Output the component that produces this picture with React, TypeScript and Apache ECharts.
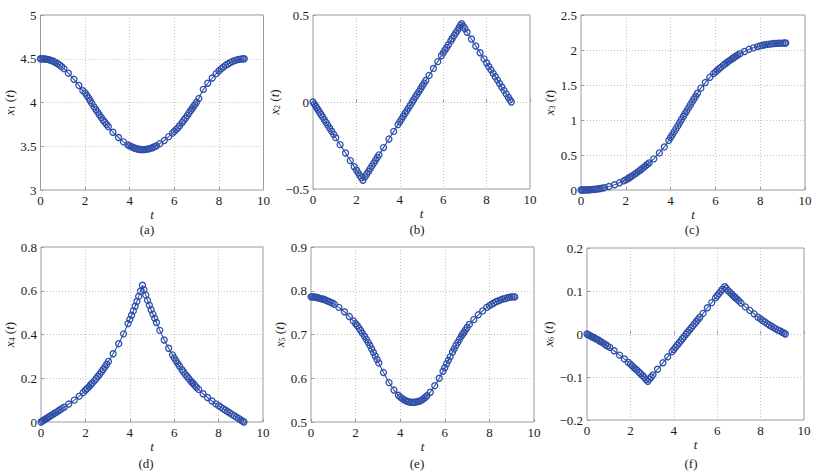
import React, { useEffect, useRef } from 'react';
import * as echarts from 'echarts';

// shared time samples (adaptive solver steps)
const T = [0, 0.06, 0.12, 0.18, 0.24, 0.3, 0.37, 0.44, 0.52, 0.6, 0.68, 0.77, 0.86, 0.95, 1.05,
  1.25, 1.5, 1.72, 1.9,
  2.0, 2.08, 2.16, 2.23, 2.3, 2.4, 2.48, 2.56, 2.64, 2.72, 2.8, 2.88, 2.96, 3.04,
  3.25, 3.5, 3.72, 3.92,
  4.0, 4.08, 4.16, 4.24, 4.32, 4.4, 4.48, 4.57, 4.64, 4.72, 4.8, 4.88, 4.96, 5.04, 5.12, 5.2,
  5.35, 5.55, 5.75, 5.92,
  6.0, 6.08, 6.16, 6.24, 6.35, 6.42, 6.5, 6.58, 6.66, 6.74, 6.8, 6.85, 6.92, 7.0, 7.1,
  7.3, 7.5, 7.7, 7.88,
  8.0, 8.1, 8.2, 8.3, 8.4, 8.5, 8.6, 8.7, 8.8, 8.9, 9.0, 9.08, 9.14];

const X1 = [4.5, 4.5, 4.499, 4.498, 4.496, 4.493, 4.489, 4.484, 4.477, 4.468, 4.457, 4.443, 4.427, 4.409, 4.387,
  4.335, 4.265, 4.195, 4.135,
  4.11, 4.08, 4.05, 4.02, 3.99, 3.95, 3.92, 3.89, 3.86, 3.83, 3.8, 3.775, 3.75, 3.725,
  3.66, 3.6, 3.55, 3.515,
  3.505, 3.495, 3.485, 3.477, 3.471, 3.466, 3.463, 3.462, 3.462, 3.464, 3.467, 3.472, 3.478, 3.486, 3.495, 3.505,
  3.53, 3.565, 3.61, 3.65,
  3.67, 3.69, 3.71, 3.735, 3.77, 3.795, 3.82, 3.85, 3.88, 3.91, 3.93, 3.95, 3.975, 4.005, 4.045,
  4.15, 4.22, 4.28, 4.33,
  4.36, 4.385, 4.405, 4.425, 4.44, 4.455, 4.468, 4.479, 4.487, 4.493, 4.497, 4.499, 4.5];

const X2 = [0, -0.012, -0.023, -0.035, -0.047, -0.059, -0.072, -0.086, -0.102, -0.117, -0.133, -0.151, -0.168, -0.186, -0.205,
  -0.245, -0.293, -0.337, -0.372,
  -0.391, -0.407, -0.423, -0.436, -0.45, -0.43, -0.414, -0.399, -0.383, -0.367, -0.351, -0.335, -0.319, -0.304,
  -0.262, -0.213, -0.169, -0.13,
  -0.114, -0.098, -0.082, -0.066, -0.051, -0.035, -0.019, -0.001, 0.013, 0.029, 0.045, 0.06, 0.076, 0.092, 0.108, 0.124,
  0.153, 0.193, 0.232, 0.266,
  0.282, 0.298, 0.313, 0.329, 0.351, 0.365, 0.381, 0.397, 0.412, 0.428, 0.44, 0.45, 0.436, 0.421, 0.401,
  0.362, 0.322, 0.283, 0.248,
  0.224, 0.204, 0.185, 0.165, 0.145, 0.126, 0.106, 0.086, 0.067, 0.047, 0.028, 0.012, 0];

const X3 = [0, 0, 0, 0.001, 0.002, 0.003, 0.004, 0.006, 0.008, 0.01, 0.013, 0.017, 0.021, 0.027, 0.033,
  0.05, 0.075, 0.103, 0.13,
  0.145, 0.16, 0.175, 0.19, 0.205, 0.227, 0.245, 0.263, 0.282, 0.302, 0.322, 0.344, 0.365, 0.386,
  0.445, 0.53, 0.615, 0.708,
  0.75, 0.79, 0.831, 0.873, 0.916, 0.96, 1.004, 1.05, 1.09, 1.129, 1.173, 1.216, 1.258, 1.3, 1.34, 1.382,
  1.455, 1.535, 1.61, 1.663,
  1.685, 1.708, 1.73, 1.751, 1.78, 1.798, 1.818, 1.837, 1.855, 1.873, 1.886, 1.897, 1.912, 1.929, 1.948,
  1.979, 2.01, 2.031, 2.049,
  2.059, 2.068, 2.074, 2.08, 2.084, 2.088, 2.092, 2.094, 2.096, 2.098, 2.099, 2.1, 2.1];

const X4 = [0, 0.004, 0.008, 0.012, 0.016, 0.02, 0.024, 0.029, 0.034, 0.039, 0.044, 0.05, 0.056, 0.062, 0.068,
  0.082, 0.1, 0.118, 0.134,
  0.145, 0.153, 0.161, 0.169, 0.177, 0.188, 0.198, 0.208, 0.218, 0.229, 0.24, 0.252, 0.264, 0.277,
  0.312, 0.358, 0.403, 0.45,
  0.469, 0.488, 0.508, 0.529, 0.551, 0.574, 0.598, 0.625, 0.604, 0.58, 0.556, 0.534, 0.513, 0.493, 0.474, 0.455,
  0.419, 0.375, 0.337, 0.307,
  0.293, 0.28, 0.267, 0.255, 0.239, 0.229, 0.218, 0.208, 0.198, 0.188, 0.181, 0.176, 0.168, 0.159, 0.149,
  0.129, 0.112, 0.096, 0.083,
  0.075, 0.068, 0.061, 0.055, 0.048, 0.042, 0.035, 0.029, 0.022, 0.016, 0.009, 0.004, 0];

const X5 = [0.786, 0.786, 0.786, 0.785, 0.785, 0.784, 0.783, 0.782, 0.781, 0.78, 0.778, 0.776, 0.774, 0.772, 0.769,
  0.762, 0.752, 0.741, 0.731,
  0.725, 0.72, 0.714, 0.709, 0.703, 0.696, 0.689, 0.682, 0.675, 0.667, 0.659, 0.651, 0.643, 0.635,
  0.613, 0.59, 0.573, 0.561,
  0.557, 0.554, 0.551, 0.549, 0.547, 0.546, 0.545, 0.545, 0.545, 0.546, 0.547, 0.548, 0.55, 0.553, 0.556, 0.56,
  0.568, 0.583, 0.6, 0.616,
  0.624, 0.633, 0.641, 0.649, 0.66, 0.667, 0.675, 0.682, 0.689, 0.696, 0.701, 0.704, 0.71, 0.716, 0.723,
  0.734, 0.745, 0.754, 0.762,
  0.766, 0.769, 0.772, 0.775, 0.777, 0.779, 0.781, 0.782, 0.784, 0.785, 0.786, 0.786, 0.786];

const X6 = [0, -0.002, -0.003, -0.005, -0.007, -0.008, -0.01, -0.012, -0.014, -0.017, -0.019, -0.022, -0.025, -0.028, -0.031,
  -0.039, -0.049, -0.058, -0.066,
  -0.07, -0.074, -0.078, -0.081, -0.084, -0.089, -0.093, -0.097, -0.101, -0.106, -0.11, -0.105, -0.1, -0.095,
  -0.082, -0.067, -0.053, -0.041,
  -0.036, -0.031, -0.026, -0.021, -0.016, -0.011, -0.006, 0, 0.004, 0.009, 0.014, 0.019, 0.024, 0.029, 0.034, 0.039,
  0.048, 0.061, 0.073, 0.084,
  0.089, 0.094, 0.099, 0.104, 0.11, 0.106, 0.101, 0.097, 0.093, 0.089, 0.086, 0.084, 0.081, 0.077, 0.072,
  0.063, 0.055, 0.047, 0.039,
  0.035, 0.031, 0.028, 0.024, 0.021, 0.018, 0.015, 0.012, 0.009, 0.007, 0.004, 0.002, 0];

const X_TICKS = [0, 2, 4, 6, 8, 10];
const Y1_TICKS = [3, 3.5, 4, 4.5, 5];
const Y2_TICKS = [-0.5, 0, 0.5];
const Y3_TICKS = [0, 0.5, 1, 1.5, 2, 2.5];
const Y4_TICKS = [0, 0.2, 0.4, 0.6, 0.8];
const Y5_TICKS = [0.5, 0.6, 0.7, 0.8, 0.9];
const Y6_TICKS = [-0.2, -0.1, 0, 0.1, 0.2];
const SUBSCRIPTS = ['1', '2', '3', '4', '5', '6'];
const CAPTIONS = ['(a)', '(b)', '(c)', '(d)', '(e)', '(f)'];

const FONT = 'Liberation Serif, Times New Roman, Times, serif';
const BLUE = '#2e4ea8';
const TXT = '#1a1a1a';

const LAYOUT = [
  { left: 40.5, top: 15, width: 223, height: 175, cx: 147, cy: 229, ng: 4 },
  { left: 313, top: 15, width: 217, height: 174, cx: 417, cy: 229, ng: 5 },
  { left: 581, top: 15, width: 224, height: 175, cx: 692, cy: 229, ng: 4 },
  { left: 41, top: 247, width: 222, height: 175, cx: 146, cy: 463, ng: 11 },
  { left: 311, top: 247, width: 223, height: 175, cx: 417, cy: 463, ng: 11 },
  { left: 587, top: 248, width: 217, height: 172, cx: 691, cy: 463, ng: 13 },
];

const fmt = (v: number) => String(Math.round(v * 1000) / 1000).replace('-', '\u2212');

export default function App() {
  const ref = useRef<HTMLDivElement>(null);
  useEffect(() => {
    const chart = echarts.init(ref.current!, null, { renderer: 'svg' });
    const series = [X1, X2, X3, X4, X5, X6];
    const yTicks = [Y1_TICKS, Y2_TICKS, Y3_TICKS, Y4_TICKS, Y5_TICKS, Y6_TICKS];
    const grid: any[] = [];
    const xAxis: any[] = [];
    const yAxis: any[] = [];
    const ser: any[] = [];
    const graphic: any[] = [];
    const tickLab = { fontFamily: FONT, fontSize: 13, color: TXT };
    for (let i = 0; i < 6; i++) {
      const L = LAYOUT[i];
      grid.push({ left: L.left, top: L.top, width: L.width, height: L.height, show: true, borderColor: '#9a9a9a', borderWidth: 1, backgroundColor: 'transparent' });
      xAxis.push({
        type: 'value', gridIndex: i, min: X_TICKS[0], max: X_TICKS[X_TICKS.length - 1], interval: X_TICKS[1] - X_TICKS[0],
        name: 't', nameLocation: 'middle', nameGap: L.ng,
        nameTextStyle: { fontFamily: FONT, fontSize: 13, fontStyle: 'italic', color: TXT, lineHeight: 13 },
        axisLine: { show: false },
        axisTick: { show: true, inside: true, length: 3, lineStyle: { color: '#9a9a9a' } },
        axisLabel: { ...tickLab, margin: 4, formatter: fmt },
        splitLine: { show: true, showMinLine: false, showMaxLine: false, lineStyle: { type: [1, 2], color: '#c4c4c4', width: 1 } },
      });
      const yt = yTicks[i];
      yAxis.push({
        type: 'value', gridIndex: i, min: yt[0], max: yt[yt.length - 1], interval: Math.round((yt[1] - yt[0]) * 1000) / 1000,
        name: `{i|x}{s|${SUBSCRIPTS[i]}}{n| (}{i|t}{n|)}`, nameLocation: 'middle', nameRotate: 90, nameGap: 16,
        nameTextStyle: {
          fontFamily: FONT, fontSize: 13, color: TXT,
          rich: {
            i: { fontFamily: FONT, fontSize: 13, fontStyle: 'italic', color: TXT },
            n: { fontFamily: FONT, fontSize: 13, color: TXT },
            s: { fontFamily: FONT, fontSize: 8, color: TXT, padding: [6, 0, 0, 0] },
          },
        },
        axisLine: { show: false },
        axisTick: { show: true, inside: true, length: 3, lineStyle: { color: '#9a9a9a' } },
        axisLabel: { ...tickLab, margin: 4, formatter: fmt },
        splitLine: { show: true, showMinLine: false, showMaxLine: false, lineStyle: { type: [1, 2], color: '#c4c4c4', width: 1 } },
      });
      const ys = series[i];
      ser.push({
        type: 'line', xAxisIndex: i, yAxisIndex: i,
        data: T.map((t, k) => [t, ys[k]]),
        symbol: 'circle', symbolSize: 6, showSymbol: true,
        lineStyle: { color: BLUE, width: 1.1 },
        itemStyle: { color: 'rgba(0,0,0,0)', borderColor: BLUE, borderWidth: 1.3 },
        emphasis: { disabled: true },
      });
      graphic.push({
        type: 'text', x: L.cx, y: L.cy,
        style: { text: CAPTIONS[i], fontFamily: FONT, fontSize: 13, fill: TXT, align: 'center', verticalAlign: 'middle' },
      });
    }
    chart.setOption({
      animation: false,
      backgroundColor: '#fff',
      grid, xAxis, yAxis, series: ser, graphic,
    });
    return () => chart.dispose();
  }, []);
  return <div ref={ref} style={{ position: 'fixed', left: 0, top: 0, width: 822, height: 473 }} />;
}
